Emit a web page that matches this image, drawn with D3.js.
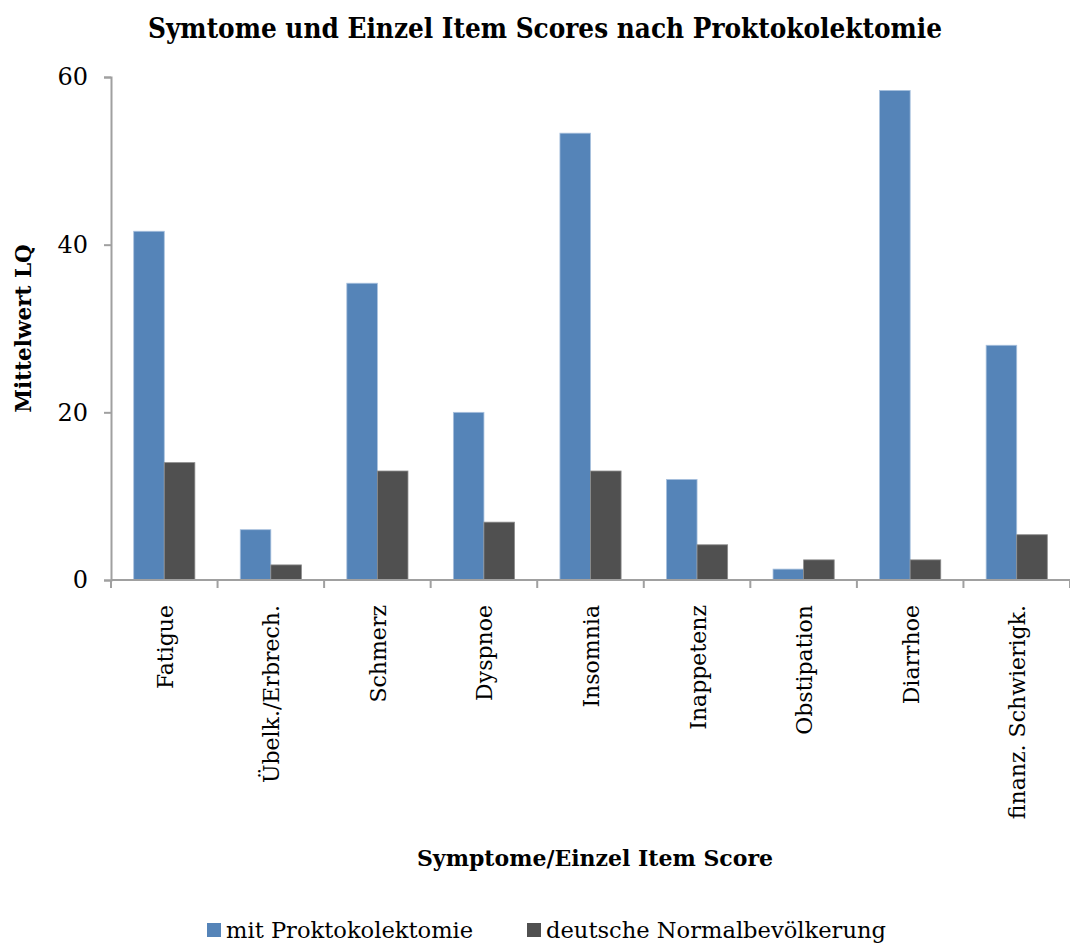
<!DOCTYPE html>
<html>
<head>
<meta charset="utf-8">
<script src="https://cdnjs.cloudflare.com/ajax/libs/d3/7.8.5/d3.min.js"></script>
<style>
  body { margin: 0; background: #fff; }
  text { font-family: "DejaVu Serif", serif; fill: #000; }
</style>
</head>
<body>
<script>
// values
const categories = ["Fatigue", "Übelk./Erbrech.", "Schmerz", "Dyspnoe", "Insomnia",
                    "Inappetenz", "Obstipation", "Diarrhoe", "finanz. Schwierigk."];
const proktokolektomie = [41.6, 6.0, 35.4, 20.0, 53.3, 12.0, 1.3, 58.4, 28.0];
const normalbevoelkerung = [14.0, 1.8, 13.0, 6.9, 13.0, 4.2, 2.4, 2.4, 5.4];
const seriesNames = ["mit Proktokolektomie", "deutsche Normalbevölkerung"];
const yTicks = [0, 20, 40, 60];

const colors = ["#5584b8", "#505050"];
const strokes = ["#a9c1de", "#8a8a8a"];

const width = 1070, height = 944;
const margin = {left: 111, right: 0, top: 77, bottom: 364};

const svg = d3.select("body").append("svg")
              .attr("width", width).attr("height", height);

const xScale = d3.scaleBand()
                 .domain(categories)
                 .range([margin.left, width - margin.right])
                 .paddingInner(0.426)
                 .paddingOuter(0.213);

const yScale = d3.scaleLinear().domain([0, 60])
                 .range([height - margin.bottom, margin.top]);

const xSub = d3.scaleBand().domain([0, 1]).range([0, xScale.bandwidth()]);

// bars
const rows = categories.map((c, i) => ({cat: c, vals: [proktokolektomie[i], normalbevoelkerung[i]]}));

const groups = svg.append("g").selectAll("g")
                  .data(rows).enter().append("g")
                  .attr("transform", d => `translate(${xScale(d.cat)},0)`);

groups.selectAll("rect")
      .data(d => d.vals.map((v, k) => ({v, k})))
      .enter().append("rect")
      .attr("x", d => xSub(d.k))
      .attr("width", xSub.bandwidth())
      .attr("y", d => yScale(d.v))
      .attr("height", d => yScale(0) - yScale(d.v))
      .attr("fill", d => colors[d.k])
      .attr("stroke", d => strokes[d.k])
      .attr("stroke-width", 0.8);

// y axis
const yAxis = d3.axisLeft(yScale).tickValues(yTicks).tickSize(7).tickPadding(16);
const gy = svg.append("g").attr("transform", `translate(${margin.left},0)`).call(yAxis);
gy.select(".domain").attr("stroke", "#a0a0a0").attr("stroke-width", 2);
gy.selectAll(".tick line").attr("stroke", "#a0a0a0").attr("stroke-width", 2);
gy.selectAll(".tick text").style("font-family", "DejaVu Serif").style("font-size", "24px").attr("fill", "#000");

// x axis: ticks between categories
const boundaries = d3.range(categories.length + 1).map(i => margin.left + i * xScale.step());
const xAxisG = svg.append("g");
xAxisG.append("line")
      .attr("x1", margin.left).attr("x2", width)
      .attr("y1", yScale(0)).attr("y2", yScale(0))
      .attr("stroke", "#a0a0a0").attr("stroke-width", 2);
xAxisG.selectAll("line.tk").data(boundaries).enter().append("line")
      .attr("class", "tk")
      .attr("x1", d => d).attr("x2", d => d)
      .attr("y1", yScale(0)).attr("y2", yScale(0) + 8)
      .attr("stroke", "#a0a0a0").attr("stroke-width", 2);

xAxisG.selectAll("text").data(categories).enter().append("text")
      .attr("transform", d => `translate(${xScale(d) + xScale.bandwidth() / 2 + 1},${yScale(0) + 25}) rotate(-90)`)
      .attr("text-anchor", "end")
      .attr("dominant-baseline", "central")
      .style("font-size", "22px")
      .text(d => d);

// titles
svg.append("text")
   .attr("x", 545).attr("y", 38)
   .attr("text-anchor", "middle")
   .attr("textLength", 794).attr("lengthAdjust", "spacingAndGlyphs")
   .style("font-size", "28px").style("font-weight", "bold")
   .text("Symtome und Einzel Item Scores nach Proktokolektomie");

svg.append("text")
   .attr("transform", `translate(31,${(yScale(0) + yScale(60)) / 2}) rotate(-90)`)
   .attr("text-anchor", "middle")
   .style("font-size", "21.5px").style("font-weight", "bold")
   .text("Mittelwert LQ");

svg.append("text")
   .attr("x", 595).attr("y", 866)
   .attr("text-anchor", "middle")
   .style("font-size", "22px").style("font-weight", "bold")
   .text("Symptome/Einzel Item Score");

// legend
const legendX = [207, 527];
const legend = svg.append("g").selectAll("g")
                  .data(seriesNames).enter().append("g")
                  .attr("transform", (d, i) => `translate(${legendX[i]},923)`);
legend.append("rect").attr("width", 14).attr("height", 14)
      .attr("fill", (d, i) => colors[i]);
legend.append("text").attr("x", 19).attr("y", 15)
      .style("font-size", "22.6px")
      .text(d => d);
</script>
</body>
</html>
